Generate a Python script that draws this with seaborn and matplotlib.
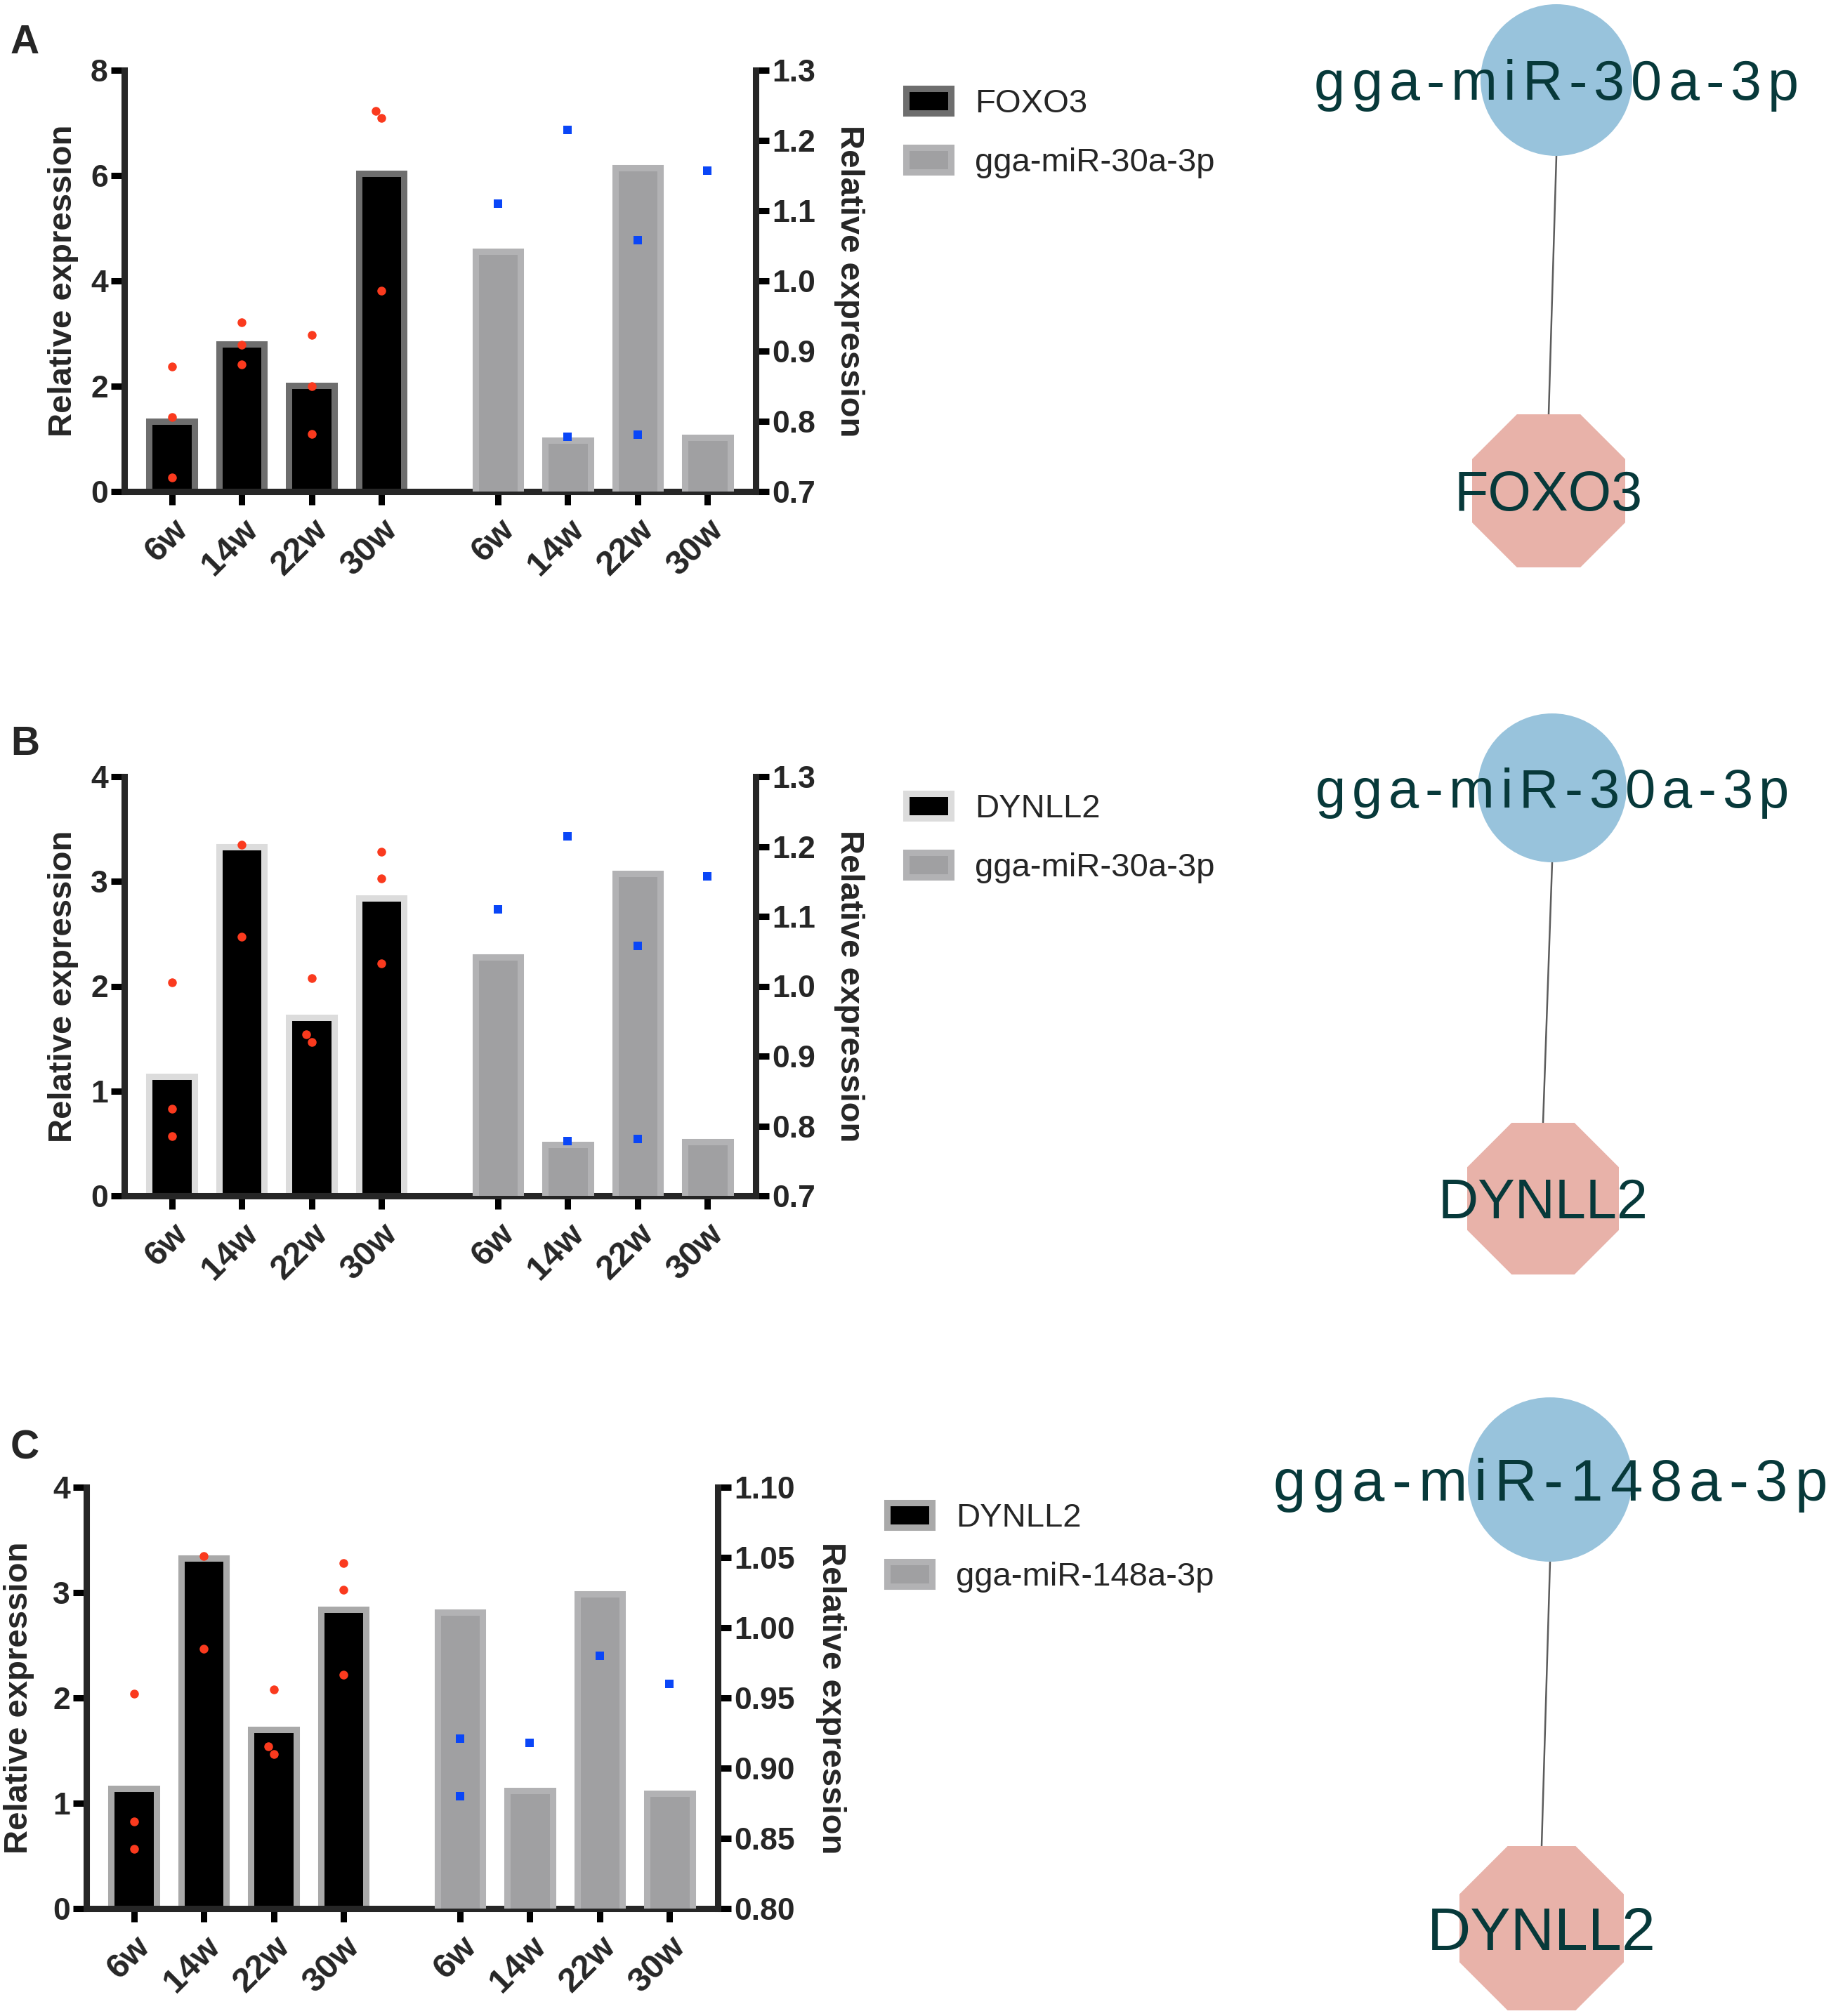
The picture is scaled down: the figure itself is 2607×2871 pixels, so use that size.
import numpy as np
import pandas as pd
import matplotlib
matplotlib.use("Agg")
import matplotlib.pyplot as plt
import matplotlib.ticker as mticker
from matplotlib.patches import Patch, Circle, RegularPolygon
from matplotlib.font_manager import FontProperties
import seaborn as sns

# ---- data ----
weeks = ["6w", "14w", "22w", "30w"]

foxo3_mean = [1.34, 2.80, 2.02, 6.04]
foxo3_pts = [[2.38, 1.41, 0.27], [3.22, 2.79, 2.41], [2.98, 2.00, 1.10], [7.23, 7.10, 3.81]]

mir30_mean = [1.042, 0.773, 1.161, 0.777]
mir30_pts = [[1.110], [1.215, 0.778], [1.058, 0.781], [1.157]]

dynll2_mean = [1.14, 3.33, 1.70, 2.84]
dynll2_pts = [[2.04, 0.83, 0.57], [3.35, 2.47], [2.08, 1.47, 1.54], [3.28, 3.03, 2.22]]

mir148_mean = [1.011, 0.884, 1.024, 0.882]
mir148_pts = [[0.921, 0.880], [0.918], [0.980], [0.960]]

ticks_8 = [0, 2, 4, 6, 8]
ticks_4 = [0, 1, 2, 3, 4]
ticks_mir30 = [0.7, 0.8, 0.9, 1.0, 1.1, 1.2, 1.3]
ticks_mir148 = [0.80, 0.85, 0.90, 0.95, 1.00, 1.05, 1.10]

# ---- style ----
W, H = 2607, 2871
DPI = 100
sns.set_style("ticks")
plt.rcParams["font.family"] = ["Liberation Sans", "DejaVu Sans"]
plt.rcParams["font.weight"] = "bold"

RED = "#fa3a1e"
BLUE = "#0a46f7"
MIR_FACE = "#a0a0a2"
MIR_EDGE = "#b2b2b4"
NODE_TXT = "#07393a"
LW = 6.5

fig = plt.figure(figsize=(W / DPI, H / DPI), dpi=DPI)


def px_rect(l, t, r, b):
    return [l / W, 1 - b / H, (r - l) / W, (b - t) / H]


def long_form(groups, offset):
    rows = []
    for i, vals in enumerate(groups):
        for v in vals:
            rows.append({"pos": i + offset, "val": v})
    return pd.DataFrame(rows)


def bar_panel(rect, gene, gene_mean, gene_pts, gene_edge, gene_ticks,
              mir, mir_mean, mir_pts, mir_ticks, mir_fmt, pads, legend_xy):
    ax = fig.add_axes(px_rect(*rect))
    ax2 = ax.twinx()
    gap = 4.667
    gpos = np.arange(len(weeks))
    mpos = gpos + gap

    sns.barplot(x=gpos, y=gene_mean, native_scale=True, orient="x", width=0.65,
                color="black", saturation=1, edgecolor=gene_edge, linewidth=LW,
                errorbar=None, ax=ax)
    d = long_form(gene_pts, 0)
    sns.swarmplot(data=d, x="pos", y="val", native_scale=True, orient="x",
                  color=RED, size=9, linewidth=0, ax=ax, zorder=4)

    sns.barplot(x=mpos, y=mir_mean, native_scale=True, orient="x", width=0.65,
                color=MIR_FACE, saturation=1, edgecolor=MIR_EDGE, linewidth=LW,
                errorbar=None, ax=ax2)
    d2 = long_form(mir_pts, gap)
    sns.swarmplot(data=d2, x="pos", y="val", native_scale=True, orient="x",
                  color=BLUE, size=8.5, marker="s", linewidth=0, ax=ax2, zorder=4)

    ax.set_xlim(-0.68, 8.357)
    ax.set_ylim(gene_ticks[0], gene_ticks[-1])
    ax2.set_ylim(mir_ticks[0], mir_ticks[-1])
    ax.set_yticks(gene_ticks)
    ax2.set_yticks(mir_ticks)
    ax2.yaxis.set_major_formatter(mticker.FormatStrFormatter(mir_fmt))
    ax.set_xticks(np.concatenate([gpos, mpos]))
    ax.set_xticklabels(weeks * 2, rotation=45, ha="right", rotation_mode="anchor")

    for a in (ax, ax2):
        a.spines["top"].set_visible(False)
        for s in a.spines.values():
            s.set_linewidth(LW)
        a.tick_params(width=LW, length=13.7, labelsize=32, color="black")
    ax.spines["right"].set_visible(False)
    ax2.spines["left"].set_visible(False)
    ax2.spines["bottom"].set_visible(False)
    ax.tick_params(axis="x", pad=9, labelsize=35)
    ax.tick_params(axis="y", pad=3)
    ax2.tick_params(axis="y", pad=3)

    ax.set_xlabel("")
    ax.set_ylabel("Relative expression", fontsize=34, fontweight="bold", labelpad=pads[0])
    ax2.set_xlabel("")
    ax2.set_ylabel("Relative expression", fontsize=34, fontweight="bold",
                   rotation=270, va="bottom", labelpad=pads[1])

    handles = [Patch(facecolor="black", edgecolor=gene_edge, linewidth=LW),
               Patch(facecolor=MIR_FACE, edgecolor=MIR_EDGE, linewidth=LW)]
    ax2.legend(handles, [gene, mir], loc="upper left",
               bbox_to_anchor=(legend_xy[0] / W, 1 - legend_xy[1] / H),
               bbox_transform=fig.transFigure, frameon=False,
               prop={"size": 34, "weight": "normal"}, handlelength=1.36,
               handleheight=0.76, handletextpad=0.72, labelspacing=0.84,
               borderpad=0, borderaxespad=0)
    return ax


bar_panel((177, 100, 1076, 700), "FOXO3", foxo3_mean, foxo3_pts, "#6e6e6e", ticks_8,
          "gga-miR-30a-3p", mir30_mean, mir30_pts, ticks_mir30, "%.1f", (12, 19), (1290, 126))
bar_panel((177, 1106, 1076, 1703), "DYNLL2", dynll2_mean, dynll2_pts, "#dcdcdc", ticks_4,
          "gga-miR-30a-3p", mir30_mean, mir30_pts, ticks_mir30, "%.1f", (12, 19), (1290, 1130))
bar_panel((123, 2118, 1022, 2718), "DYNLL2", dynll2_mean, dynll2_pts, "#a9a9a9", ticks_4,
          "gga-miR-148a-3p", mir148_mean, mir148_pts, ticks_mir148, "%.2f", (19, 21), (1263, 2140))

for letter, base in zip("ABC", (76, 1075, 2077)):
    fig.text(15 / W, 1 - base / H, letter, fontsize=41, fontweight="bold",
             ha="left", va="baseline")

# ---- network diagrams (drawn in pixel coordinates of the figure) ----
net = fig.add_axes([0, 0, 1, 1])
net.set_xlim(0, W)
net.set_ylim(H, 0)
net.axis("off")
net.patch.set_visible(False)
renderer = fig.canvas.get_renderer()


def spaced_label(cx, baseline, text, size, width):
    prop = FontProperties(family="Liberation Sans", size=size, weight="normal")
    widths = [renderer.get_text_width_height_descent(c, prop, ismath=False)[0] for c in text]
    step = (width - sum(widths)) / (len(text) - 1)
    x = cx - width / 2
    for c, w in zip(text, widths):
        net.text(x, baseline, c, fontproperties=prop, color=NODE_TXT,
                 ha="left", va="baseline", zorder=5)
        x += w + step


def network(mir, gene, mxy, mr, gxy, gh, msize, mwidth, gsize):
    net.plot([mxy[0], gxy[0]], [mxy[1] + mr, gxy[1] - gh], color="#5c5c5c", lw=1.8, zorder=1)
    net.add_patch(Circle(mxy, mr, facecolor="#98c3dc", edgecolor="none", zorder=2))
    net.add_patch(RegularPolygon(gxy, 8, radius=gh / np.cos(np.pi / 8),
                                 orientation=np.pi / 8, facecolor="#e8b2a9",
                                 edgecolor="none", zorder=2))
    spaced_label(mxy[0], mxy[1] + 0.358 * msize * DPI / 72, mir, msize, mwidth)
    net.text(gxy[0], gxy[1] + 0.358 * gsize * DPI / 72, gene, fontsize=gsize,
             fontweight="normal", color=NODE_TXT, ha="center", va="baseline", zorder=5)


network("gga-miR-30a-3p", "FOXO3", (2216, 114), 108, (2205, 699), 109, 57, 690, 57)
network("gga-miR-30a-3p", "DYNLL2", (2210, 1122), 106, (2197, 1707), 108, 56, 674, 57)
network("gga-miR-148a-3p", "DYNLL2", (2207, 2107), 117, (2195, 2746), 117, 60, 790, 62)

fig.savefig("out.png", dpi=DPI)
